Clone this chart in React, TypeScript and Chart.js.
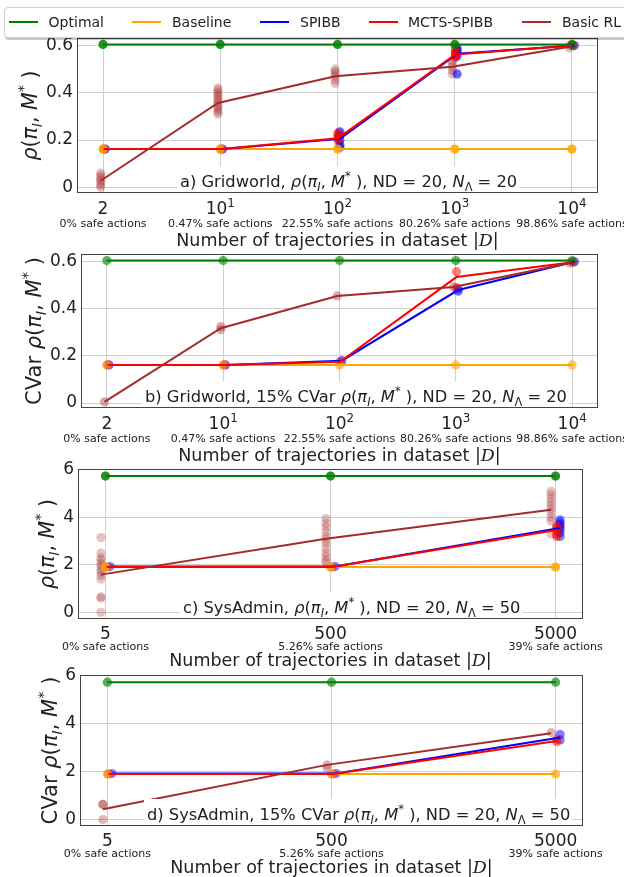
import React, { useEffect, useRef } from 'react';
import { Chart, registerables } from 'chart.js';
Chart.register(...registerables);

// ---------------- DATA ----------------
const SERIES_NAMES = ['Optimal', 'Baseline', 'SPIBB', 'MCTS-SPIBB', 'Basic RL'];

const GW_TICKS = ['2', '10^1', '10^2', '10^3', '10^4'];
const GW_SAFE = ['0% safe actions', '0.47% safe actions', '22.55% safe actions', '80.26% safe actions', '98.86% safe actions'];
const SA_TICKS = ['5', '500', '5000'];
const SA_SAFE = ['0% safe actions', '5.26% safe actions', '39% safe actions'];

const GW_YTICKS = [0, 0.2, 0.4, 0.6];
const SA_YTICKS = [0, 2, 4, 6];

// a) Gridworld, rho
const A_OPTIMAL = [0.605, 0.605, 0.605, 0.605, 0.605];
const A_BASELINE = [0.162, 0.162, 0.162, 0.162, 0.162];
const A_SPIBB = [0.162, 0.162, 0.205, 0.565, 0.6];
const A_MCTS = [0.162, 0.162, 0.208, 0.562, 0.6];
const A_BASICRL = [0.028, 0.357, 0.47, 0.51, 0.595];
const A_SPIBB_RUNS = [[0.162], [0.162], [0.17, 0.18, 0.2, 0.22, 0.235], [0.48, 0.555, 0.57, 0.58, 0.59], [0.6]];
const A_MCTS_RUNS = [[0.162], [0.162], [0.2, 0.21, 0.22, 0.23], [0.55, 0.56, 0.57, 0.58], [0.6]];
const A_BASICRL_RUNS = [
  [0, 0.01, 0.02, 0.03, 0.04, 0.05, 0.06],
  [0.31, 0.32, 0.33, 0.34, 0.35, 0.36, 0.37, 0.38, 0.39, 0.4, 0.41, 0.42],
  [0.44, 0.455, 0.47, 0.48, 0.49, 0.5],
  [0.48, 0.495, 0.51, 0.52, 0.535],
  [0.59, 0.6],
];

// b) Gridworld, 15% CVar
const B_OPTIMAL = [0.605, 0.605, 0.605, 0.605, 0.605];
const B_BASELINE = [0.162, 0.162, 0.162, 0.162, 0.162];
const B_SPIBB = [0.162, 0.162, 0.18, 0.48, 0.6];
const B_MCTS = [0.162, 0.162, 0.175, 0.535, 0.598];
const B_BASICRL = [0.005, 0.318, 0.455, 0.493, 0.595];
const B_SPIBB_RUNS = [[0.162], [0.162], [0.18], [0.475, 0.485], [0.6]];
const B_MCTS_RUNS = [[0.162], [0.162], [0.175], [0.49, 0.558], [0.598]];
const B_BASICRL_RUNS = [[0.005], [0.312, 0.325], [0.455], [0.493], [0.595]];

// c) SysAdmin, rho
const C_OPTIMAL = [5.74, 5.74, 5.74];
const C_BASELINE = [1.91, 1.91, 1.91];
const C_SPIBB = [1.93, 1.93, 3.55];
const C_MCTS = [1.91, 1.91, 3.47];
const C_BASICRL = [1.59, 3.1, 4.32];
const C_SPIBB_RUNS = [[1.93], [1.93], [3.2, 3.35, 3.5, 3.6, 3.7, 3.8, 3.9]];
const C_MCTS_RUNS = [[1.91], [1.91], [3.2, 3.3, 3.45, 3.55, 3.65]];
const C_BASICRL_RUNS = [
  [0, 0.6, 0.65, 1.4, 1.55, 1.7, 1.8, 1.95, 2.05, 2.2, 2.3, 2.5, 3.15],
  [2.1, 2.2, 2.35, 2.5, 2.7, 2.9, 3.05, 3.2, 3.4, 3.6, 3.75, 3.95],
  [3.3, 3.85, 4.0, 4.2, 4.35, 4.5, 4.65, 4.8, 4.95, 5.1],
];

// d) SysAdmin, 15% CVar
const D_OPTIMAL = [5.73, 5.73, 5.73];
const D_BASELINE = [1.9, 1.9, 1.9];
const D_SPIBB = [1.92, 1.92, 3.42];
const D_MCTS = [1.9, 1.9, 3.28];
const D_BASICRL = [0.43, 2.28, 3.6];
const D_SPIBB_RUNS = [[1.92], [1.92], [3.32, 3.55]];
const D_MCTS_RUNS = [[1.9], [1.9], [3.25, 3.35]];
const D_BASICRL_RUNS = [[0, 0.63, 0.63], [2.15, 2.28], [3.63]];

// ---------------- STYLE ----------------
const FONT = '"DejaVu Sans"';
const TEXT = '#222';
const SERIES_STYLE = [
  { rgb: '0,128,0', dx: 0, lineOrder: 5, pointOrder: 6 },
  { rgb: '255,165,0', dx: 0, lineOrder: 4, pointOrder: 7 },
  { rgb: '0,0,255', dx: 0.02, lineOrder: 3, pointOrder: 9 },
  { rgb: '255,0,0', dx: 0.005, lineOrder: 2, pointOrder: 8 },
  { rgb: '165,42,42', dx: -0.02, lineOrder: 1, pointOrder: 10 },
];
const LEG_LINE_X = [9, 131.5, 260, 368.5, 522];
const LEG_TEXT_X = [48.6, 172, 300, 408, 562];

type Seg = { t: string; i?: boolean; v?: 'sub' | 'sup'; cal?: boolean };

const RHO: Seg[] = [
  { t: 'ρ', i: true }, { t: '(' }, { t: 'π', i: true }, { t: 'I', i: true, v: 'sub' },
  { t: ', ' }, { t: 'M', i: true }, { t: '*', v: 'sup' }, { t: ' )' },
];
const XTITLE: Seg[] = [{ t: 'Number of trajectories in dataset |' }, { t: 'D', cal: true }, { t: '|' }];

function boxText(prefix: string, cvar: boolean, nl: string): Seg[] {
  return [
    { t: prefix + (cvar ? '15% CVar ' : '') },
    ...RHO,
    { t: ', ND = 20, ' },
    { t: 'N', i: true }, { t: 'Λ', v: 'sub' },
    { t: ' = ' + nl },
  ];
}

function parseTick(s: string): Seg[] {
  const p = s.split('^');
  return p.length > 1 ? [{ t: p[0] }, { t: p[1], v: 'sup' }] : [{ t: s }];
}

function segFont(s: Seg, size: number) {
  const sz = s.v ? size * 0.7 : size;
  if (s.cal) return `italic ${sz}px "DejaVu Serif"`;
  return `${s.i ? 'italic ' : ''}${sz}px ${FONT}`;
}
function richWidth(ctx: CanvasRenderingContext2D, segs: Seg[], size: number) {
  let w = 0;
  for (const s of segs) { ctx.font = segFont(s, size); w += ctx.measureText(s.t).width; }
  return w;
}
function drawRich(ctx: CanvasRenderingContext2D, segs: Seg[], x: number, y: number, size: number, align: 'left' | 'center') {
  const w = richWidth(ctx, segs, size);
  let cx = align === 'center' ? x - w / 2 : x;
  ctx.fillStyle = TEXT;
  ctx.textAlign = 'left';
  ctx.textBaseline = 'alphabetic';
  for (const s of segs) {
    ctx.font = segFont(s, size);
    const dy = s.v === 'sub' ? size * 0.22 : s.v === 'sup' ? -size * 0.42 : 0;
    ctx.fillText(s.t, cx, y + dy);
    cx += ctx.measureText(s.t).width;
  }
  return w;
}

type Panel = {
  ticks: string[]; safe: string[]; means: number[][]; runs: number[][][]; alphas: number[];
  xMin: number; xMax: number; yMin: number; yMax: number; yTicks: number[];
  L: number; T: number; R: number; B: number;
  ylabel: Seg[]; ylabelX: number; ylabelSize: number; box: Seg[]; boxX: number;
  tickDy: number; safeDy: number; titleDy: number;
};

const one = (a: number[]) => a.map((v) => [v]);

const PANELS: Panel[] = [
  {
    ticks: GW_TICKS, safe: GW_SAFE,
    means: [A_OPTIMAL, A_BASELINE, A_SPIBB, A_MCTS, A_BASICRL],
    runs: [one(A_OPTIMAL), one(A_BASELINE), A_SPIBB_RUNS, A_MCTS_RUNS, A_BASICRL_RUNS],
    alphas: [0.85, 0.85, 0.6, 0.6, 0.3],
    xMin: -0.222, xMax: 4.222, yMin: -0.024, yMax: 0.632, yTicks: GW_YTICKS,
    L: 77, T: 38, R: 598, B: 193, ylabel: RHO, ylabelX: 37, ylabelSize: 20.5,
    box: boxText('a) Gridworld, ', false, '20'), boxX: 180, tickDy: 21, safeDy: 34, titleDy: 53,
  },
  {
    ticks: GW_TICKS, safe: GW_SAFE,
    means: [B_OPTIMAL, B_BASELINE, B_SPIBB, B_MCTS, B_BASICRL],
    runs: [one(B_OPTIMAL), one(B_BASELINE), B_SPIBB_RUNS, B_MCTS_RUNS, B_BASICRL_RUNS],
    alphas: [0.6, 0.6, 0.55, 0.5, 0.4],
    xMin: -0.222, xMax: 4.222, yMin: -0.021, yMax: 0.633, yTicks: GW_YTICKS,
    L: 81, T: 254, R: 598, B: 408, ylabel: [{ t: 'CVar ' }, ...RHO], ylabelX: 41, ylabelSize: 21,
    box: boxText('b) Gridworld, ', true, '20'), boxX: 145, tickDy: 21, safeDy: 34, titleDy: 53,
  },
  {
    ticks: SA_TICKS, safe: SA_SAFE,
    means: [C_OPTIMAL, C_BASELINE, C_SPIBB, C_MCTS, C_BASICRL],
    runs: [one(C_OPTIMAL), one(C_BASELINE), C_SPIBB_RUNS, C_MCTS_RUNS, C_BASICRL_RUNS],
    alphas: [0.85, 0.85, 0.5, 0.5, 0.28],
    xMin: -0.122, xMax: 2.122, yMin: -0.28, yMax: 6.04, yTicks: SA_YTICKS,
    L: 78, T: 469, R: 583, B: 619, ylabel: RHO, ylabelX: 54, ylabelSize: 20.5,
    box: boxText('c) SysAdmin, ', false, '50'), boxX: 183, tickDy: 20, safeDy: 31, titleDy: 47,
  },
  {
    ticks: SA_TICKS, safe: SA_SAFE,
    means: [D_OPTIMAL, D_BASELINE, D_SPIBB, D_MCTS, D_BASICRL],
    runs: [one(D_OPTIMAL), one(D_BASELINE), D_SPIBB_RUNS, D_MCTS_RUNS, D_BASICRL_RUNS],
    alphas: [0.65, 0.65, 0.5, 0.5, 0.35],
    xMin: -0.122, xMax: 2.122, yMin: -0.27, yMax: 6.03, yTicks: SA_YTICKS,
    L: 80, T: 675, R: 583, B: 826, ylabel: [{ t: 'CVar ' }, ...RHO], ylabelX: 57, ylabelSize: 21,
    box: boxText('d) SysAdmin, ', true, '50'), boxX: 147, tickDy: 20, safeDy: 31, titleDy: 47,
  },
];

const W = 624;
const H = 877;
const XH = 10;
const BOX_FONT = 16.3;

function makeConfig(p: Panel): any {
  const datasets: any[] = [];
  p.means.forEach((m, k) => {
    const st = SERIES_STYLE[k];
    datasets.push({
      label: SERIES_NAMES[k],
      data: m.map((y, i) => ({ x: i + st.dx, y })),
      showLine: true,
      borderColor: `rgb(${st.rgb})`,
      borderWidth: 2,
      pointRadius: 0,
      fill: false,
      order: st.lineOrder,
    });
    datasets.push({
      label: SERIES_NAMES[k] + ' runs',
      data: p.runs[k].flatMap((arr, i) => arr.map((y) => ({ x: i + st.dx, y }))),
      showLine: false,
      pointRadius: 4.6,
      pointBorderWidth: 0,
      backgroundColor: `rgba(${st.rgb},${p.alphas[k]})`,
      borderColor: 'rgba(0,0,0,0)',
      order: st.pointOrder,
    });
  });

  const deco = {
    id: 'deco',
    afterDraw(chart: any) {
      const ctx: CanvasRenderingContext2D = chart.ctx;
      const ca = chart.chartArea;
      const xs = chart.scales.x;
      ctx.save();
      // text box
      const base = ca.bottom - 6;
      const bw = richWidth(ctx, p.box, BOX_FONT);
      ctx.fillStyle = '#fff';
      ctx.fillRect(p.boxX - 3, base - 21, bw + 5, ca.bottom - (base - 21));
      drawRich(ctx, p.box, p.boxX, base, BOX_FONT, 'left');
      // frame
      ctx.strokeStyle = '#444';
      ctx.lineWidth = 1;
      ctx.strokeRect(Math.round(ca.left) + 0.5, Math.round(ca.top) + 0.5, Math.round(ca.right - ca.left) - 1, Math.round(ca.bottom - ca.top) - 1);
      // x tick labels
      p.ticks.forEach((t, i) => {
        const px = xs.getPixelForValue(i);
        drawRich(ctx, parseTick(t), px, ca.bottom + p.tickDy, 17, 'center');
        ctx.font = `11px ${FONT}`;
        ctx.textAlign = 'center';
        ctx.fillStyle = TEXT;
        ctx.fillText(p.safe[i], px, ca.bottom + p.safeDy);
      });
      // x title
      drawRich(ctx, XTITLE, (ca.left + ca.right) / 2, ca.bottom + p.titleDy, 17.5, 'center');
      // y label
      ctx.save();
      ctx.translate(p.ylabelX, (ca.top + ca.bottom) / 2);
      ctx.rotate(-Math.PI / 2);
      drawRich(ctx, p.ylabel, 0, 0, p.ylabelSize, 'center');
      ctx.restore();
      ctx.restore();
    },
  };

  return {
    type: 'scatter',
    data: { datasets },
    options: {
      animation: false,
      responsive: false,
      maintainAspectRatio: false,
      devicePixelRatio: 1,
      layout: { padding: { left: 0, top: p.T, right: W - p.R, bottom: H - p.B - XH } },
      plugins: { legend: { display: false }, tooltip: { enabled: false } },
      scales: {
        x: {
          type: 'linear', min: p.xMin, max: p.xMax, bounds: 'data',
          afterBuildTicks: (s: any) => { s.ticks = p.ticks.map((_, i) => ({ value: i })); },
          afterFit: (s: any) => { s.height = XH; },
          ticks: { display: false },
          grid: { color: '#d0d0d0', lineWidth: 1, drawTicks: false },
          border: { display: false },
        },
        y: {
          type: 'linear', min: p.yMin, max: p.yMax, bounds: 'data',
          afterBuildTicks: (s: any) => { s.ticks = p.yTicks.map((v) => ({ value: v })); },
          afterFit: (s: any) => { s.width = p.L; },
          ticks: {
            color: TEXT, padding: 4, font: { family: 'DejaVu Sans', size: 17 },
            callback: (v: number) => (v === 0 ? '0' : Number.isInteger(v) ? String(v) : v.toFixed(1)),
          },
          grid: { color: '#d0d0d0', lineWidth: 1, drawTicks: false },
          border: { display: false },
        },
      },
    },
    plugins: [deco],
  };
}

function PanelCanvas({ panel }: { panel: Panel }) {
  const ref = useRef<HTMLCanvasElement>(null);
  useEffect(() => {
    const chart = new Chart(ref.current as HTMLCanvasElement, makeConfig(panel));
    return () => chart.destroy();
  }, [panel]);
  return (
    <canvas ref={ref} width={W} height={H}
      style={{ position: 'absolute', left: 0, top: 0, width: W, height: H }} />
  );
}

export default function App() {
  useEffect(() => {
    document.body.style.margin = '0';
    document.body.style.overflow = 'hidden';
  }, []);
  return (
    <div style={{ position: 'absolute', left: 0, top: 0, width: W, height: H, overflow: 'hidden', background: '#fff' }}>
      {PANELS.map((p, i) => <PanelCanvas key={i} panel={p} />)}
      <div style={{
        position: 'absolute', left: 4, top: 7, width: 630, height: 31, boxSizing: 'border-box',
        border: '1px solid #d0d0d0', borderRadius: 4, background: '#fff',
        boxShadow: '1px 2px 0 rgba(0,0,0,0.22)',
      }}>
        {SERIES_NAMES.map((n, k) => (
          <React.Fragment key={n}>
            <div style={{
              position: 'absolute', left: LEG_LINE_X[k] - 5, top: 13, width: 29, height: 1.5,
              background: `rgb(${SERIES_STYLE[k].rgb})`,
            }} />
            <span style={{
              position: 'absolute', left: LEG_TEXT_X[k] - 5, top: 6, lineHeight: '16px',
              font: `14px ${FONT}`, color: TEXT, whiteSpace: 'nowrap',
            }}>{n}</span>
          </React.Fragment>
        ))}
      </div>
    </div>
  );
}
